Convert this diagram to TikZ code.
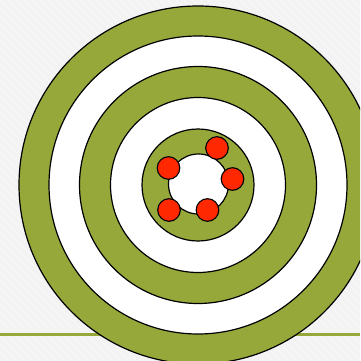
\documentclass[tikz,border=0pt]{standalone}
\definecolor{olive}{RGB}{151,168,59}
\definecolor{dotred}{RGB}{255,40,0}
\definecolor{bg}{RGB}{243,243,243}
\tikzset{
  ring/.style={draw=black, line width=1.2pt},
  dot/.style={draw=black, line width=1.1pt, fill=dotred},
}
\begin{document}
\begin{tikzpicture}[x=1pt,y=-1pt]
\useasboundingbox (0,0) rectangle (360,361);
\clip (0,0) rectangle (360,361);
\fill[bg] (0,0) rectangle (360,361);
\foreach \i in {-400,-392,...,400} {
  \draw[white, line width=0.6pt, opacity=0.6] (\i,0) -- (\i+361,361);
}
\fill[olive] (0,332.8) rectangle (360,335.6);
\coordinate (c) at (198,185);
\draw[ring, fill=olive] (c) circle (179);
\draw[ring, fill=white] (c) circle (149);
\draw[ring, fill=olive] (c) circle (118.5);
\draw[ring, fill=white] (c) circle (87.5);
\draw[ring, fill=olive] (c) circle (56);
\draw[ring, fill=white] (198.5,184) circle (30);
\draw[dot] (217,148) circle (11.3);
\draw[dot] (168.5,168) circle (11.3);
\draw[dot] (232.5,179) circle (11.3);
\draw[dot] (169,210) circle (11.3);
\draw[dot] (207.5,210) circle (11.3);
\end{tikzpicture}
\end{document}
